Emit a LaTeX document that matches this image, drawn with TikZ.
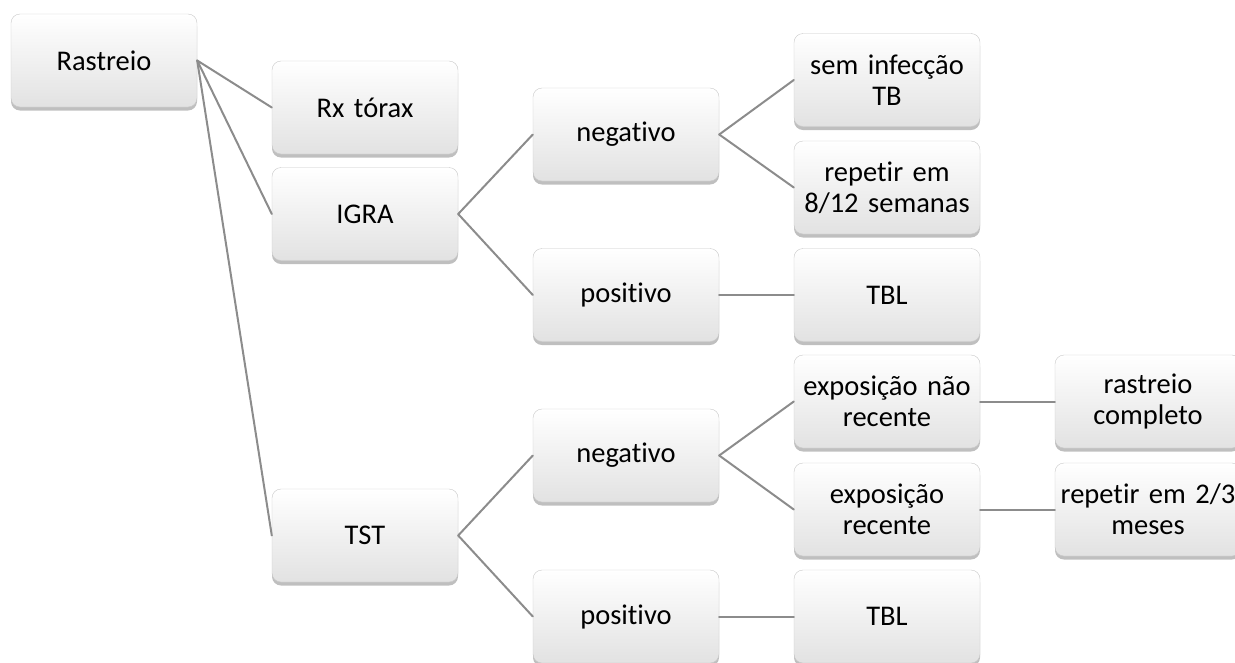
\documentclass[tikz,border=0pt]{standalone}
\usepackage{fontspec}
\setmainfont{Carlito}[Ligatures=NoCommon]
\usepackage{xcolor}
\usetikzlibrary{shadows}
\definecolor{linkgray}{HTML}{8C8C8C}
\definecolor{boxbottom}{HTML}{E2E2E2}
\definecolor{boxedge}{HTML}{C8C8C8}

\begin{document}
\begin{tikzpicture}[x=1pt,y=-1pt,line cap=round,line join=round,
  card/.style={rectangle,rounded corners=9pt,minimum width=186pt,minimum height=93pt,
    inner sep=0pt,text width=184pt,align=center,draw=boxedge,line width=0.4pt,
    top color=white,bottom color=boxbottom,
    drop shadow={shadow xshift=0pt,shadow yshift=-3.5pt,opacity=0.5,fill=gray},
    font=\fontsize{28.5}{31}\selectfont},
  link/.style={draw=linkgray,line width=2pt}]
\useasboundingbox (0,0) rectangle (1235,662);
\clip (0,0) rectangle (1235,662);
% level 0 and 1
\node[card] (rastreio) at (104,60.5) {Rastreio};
\node[card] (rx) at (365,107.5) {Rx tórax};
\node[card] (igra) at (365,214) {IGRA};
\node[card] (tst) at (365,535.5) {TST};
% IGRA branch
\node[card] (igraneg) at (626,134.5) {negativo};
\node[card] (igrapos) at (626,295) {positivo};
\node[card] (seminf) at (887,80) {sem infecção\\TB};
\node[card] (rep812) at (887,187.5) {repetir em\\8/12 semanas};
\node[card] (tblA) at (887,295) {TBL};
% TST branch
\node[card] (tstneg) at (626,455.5) {negativo};
\node[card] (tstpos) at (626,616.5) {positivo};
\node[card] (exnrec) at (887,401.5) {exposição não\\recente};
\node[card] (exrec) at (887,509.5) {exposição\\recente};
\node[card] (tblB) at (887,616.5) {TBL};
\node[card] (rcompl) at (1148,401.5) {rastreio\\completo};
\node[card] (rep23) at (1148,509.5) {repetir em 2/3\\meses};
% connectors
\foreach \a/\b in {rastreio/rx,rastreio/igra,rastreio/tst,igra/igraneg,igra/igrapos,
  igraneg/seminf,igraneg/rep812,igrapos/tblA,tst/tstneg,tst/tstpos,
  tstneg/exnrec,tstneg/exrec,tstpos/tblB,exnrec/rcompl,exrec/rep23}
  \draw[link] (\a.east) -- (\b.west);
\end{tikzpicture}
\end{document}
